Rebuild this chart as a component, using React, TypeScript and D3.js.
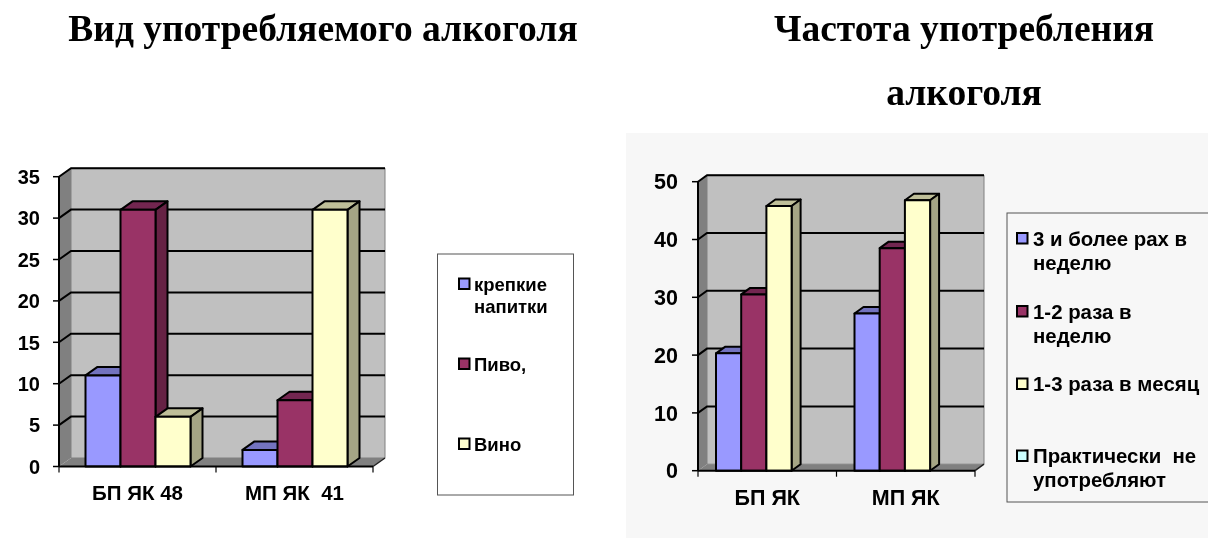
import React from "react";
import * as d3 from "d3";

const colors = ["#9999ff", "#993366", "#ffffcc"];
const sideColors = ["#4d4d80", "#662244", "#a5a585"];
const topColors = ["#7373bf", "#732650", "#bfbf99"];
const swatchColors4 = ["#9999ff", "#993366", "#ffffcc", "#ccffff"];

const leftCats = ["БП ЯК 48", "МП ЯК  41"];
const leftStrong = [11, 2];
const leftBeer = [31, 8];
const leftWine = [6, 31];
const leftTicks = [0, 5, 10, 15, 20, 25, 30, 35];

const rightCats = ["БП ЯК", "МП ЯК"];
const rightOften = [20.3, 27.2];
const rightWeekly = [30.5, 38.5];
const rightMonthly = [45.8, 46.8];
const rightTicks = [0, 10, 20, 30, 40, 50];

type Geo = { x0: number; x1: number; y0: number; y1: number; dx: number; dy: number; max: number; barW: number; pad: number; fs: number; catFs: number; catY: number; labelX: number };

function Chart3D({ g, cats, series, ticks }: { g: Geo; cats: string[]; series: number[][]; ticks: number[] }) {
  const y = d3.scaleLinear().domain([0, g.max]).range([g.y0, g.y1]);
  const x = d3.scaleBand<string>().domain(cats).range([g.x0, g.x1]).paddingInner(0).paddingOuter(0);
  const { dx, dy } = g;
  const poly = (pts: number[][]) => pts.map((p) => p.join(",")).join(" ");
  return (
    <g>
      <polygon points={poly([[g.x0 + dx, g.y1 - dy], [g.x1 + dx, g.y1 - dy], [g.x1 + dx, g.y0 - dy], [g.x0 + dx, g.y0 - dy]])} fill="#c0c0c0" stroke="#808080" strokeWidth={1} />
      <polygon points={poly([[g.x0, g.y1], [g.x0 + dx, g.y1 - dy], [g.x0 + dx, g.y0 - dy], [g.x0, g.y0]])} fill="#808080" />
      <polygon points={poly([[g.x0, g.y0], [g.x0 + dx, g.y0 - dy], [g.x1 + dx, g.y0 - dy], [g.x1, g.y0]])} fill="#808080" />
      {ticks.filter((t) => t > 0).map((t) => (
        <polyline key={t} points={poly([[g.x0, y(t)], [g.x0 + dx, y(t) - dy], [g.x1 + dx, y(t) - dy]])} fill="none" stroke="#000" strokeWidth={2} />
      ))}
      <line x1={g.x1} y1={g.y0} x2={g.x1 + dx} y2={g.y0 - dy} stroke="#222" strokeWidth={1.5} />
      {cats.map((c, ci) =>
        series.map((s, si) => {
          const l = x(c)! + g.pad + si * g.barW;
          const r = l + g.barW;
          const t = y(s[ci]);
          return (
            <g key={c + si} stroke="#000" strokeWidth={2} strokeLinejoin="round">
              <polygon points={poly([[l, t], [l + dx, t - dy], [r + dx, t - dy], [r, t]])} fill={topColors[si]} />
              <polygon points={poly([[r, t], [r + dx, t - dy], [r + dx, g.y0 - dy], [r, g.y0]])} fill={sideColors[si]} />
              <rect x={l} y={t} width={g.barW} height={g.y0 - t} fill={colors[si]} />
            </g>
          );
        })
      )}
      <line x1={g.x0} y1={g.y1} x2={g.x0} y2={g.y0} stroke="#000" strokeWidth={2} />
      <line x1={g.x0} y1={g.y0} x2={g.x1} y2={g.y0} stroke="#000" strokeWidth={2} />
      {ticks.map((t) => (
        <g key={t}>
          <line x1={g.x0 - 6} x2={g.x0} y1={y(t)} y2={y(t)} stroke="#000" strokeWidth={1.5} />
          <text x={g.labelX} y={y(t) + g.fs * 0.36} textAnchor="end" fontSize={g.fs} fontWeight="bold">{t}</text>
        </g>
      ))}
      {[g.x0, x(cats[1])!, g.x1].map((v) => (
        <line key={v} x1={v} x2={v} y1={g.y0} y2={g.y0 + 6} stroke="#000" strokeWidth={1.2} />
      ))}
      {cats.map((c) => (
        <text key={c} x={x(c)! + x.bandwidth() / 2} y={g.catY} textAnchor="middle" fontSize={g.catFs} fontWeight="bold" style={{ whiteSpace: "pre" }}>{c}</text>
      ))}
    </g>
  );
}

const leftLegend = [
  { label: ["крепкие", "напитки"], y: 291, c: 0 },
  { label: ["Пиво,"], y: 371, c: 1 },
  { label: ["Вино"], y: 451, c: 2 },
];
const rightLegend = [
  { label: ["3 и более рах в", "неделю"], y: 245.5, c: 0 },
  { label: ["1-2 раза в", "неделю"], y: 318.5, c: 1 },
  { label: ["1-3 раза в месяц"], y: 391, c: 2 },
  { label: ["Практически  не", "употребляют"], y: 463, c: 3 },
];

function Legend({ items, sx, tx, lh, fs }: { items: { label: string[]; y: number; c: number }[]; sx: number; tx: number; lh: number; fs: number }) {
  return (
    <g>
      {items.map((it) => (
        <g key={it.label[0]}>
          <rect x={sx} y={it.y - 12.5} width={10.5} height={10.5} fill={swatchColors4[it.c]} stroke="#000" strokeWidth={2} />
          {it.label.map((t, i) => (
            <text key={i} x={tx} y={it.y + i * lh} fontSize={fs} fontWeight="bold" style={{ whiteSpace: "pre" }}>{t}</text>
          ))}
        </g>
      ))}
    </g>
  );
}

const leftGeo: Geo = { x0: 59, x1: 373, y0: 466.5, y1: 176.7, dx: 12, dy: 8.5, max: 35, barW: 35, pad: 26.5, fs: 20, catFs: 20.5, catY: 500, labelX: 40 };
const rightGeo: Geo = { x0: 698, x1: 975, y0: 470.7, y1: 181.7, dx: 9, dy: 6.5, max: 50, barW: 25.2, pad: 18, fs: 21.5, catFs: 21.5, catY: 505, labelX: 678 };

export default function App() {
  return (
    <svg width={1208} height={538} style={{ position: "absolute", left: 0, top: 0, display: "block", filter: "blur(0.4px)", fontFamily: "'Liberation Sans', Arial, sans-serif" }}>
      <rect width={1208} height={538} fill="#fff" />
      <rect x={626} y={133} width={582} height={405} fill="#f7f7f7" />
      <g fontFamily="'Liberation Serif', serif" fontWeight="bold" fontSize={37.5} textAnchor="middle">
        <text x={323} y={41}>Вид употребляемого алкоголя</text>
        <text x={964} y={41}>Частота употребления</text>
        <text x={964} y={105}>алкоголя</text>
      </g>
      <Chart3D g={leftGeo} cats={leftCats} series={[leftStrong, leftBeer, leftWine]} ticks={leftTicks} />
      <Chart3D g={rightGeo} cats={rightCats} series={[rightOften, rightWeekly, rightMonthly]} ticks={rightTicks} />
      <rect x={437.5} y={254} width={136} height={241} fill="#fff" stroke="#555" strokeWidth={1} />
      <rect x={1007} y={213} width={203} height={289} fill="#f7f7f7" stroke="#555" strokeWidth={1} />
      <Legend items={leftLegend} sx={459} tx={474} lh={22} fs={18.5} />
      <Legend items={rightLegend} sx={1017} tx={1033} lh={24} fs={20.4} />
    </svg>
  );
}
